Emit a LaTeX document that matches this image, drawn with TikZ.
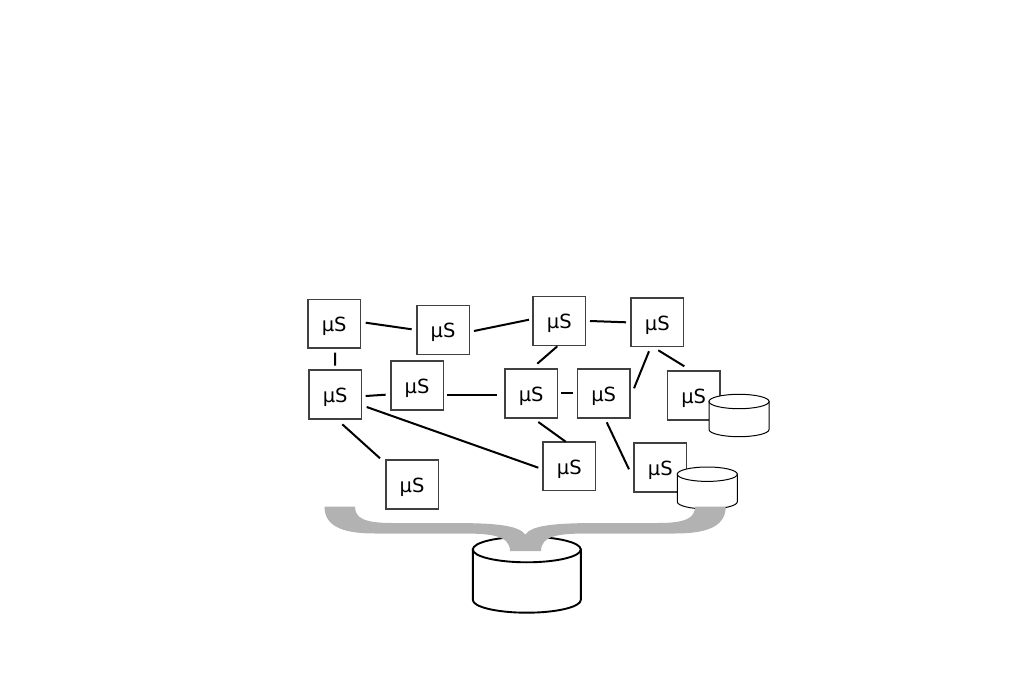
\documentclass[tikz,border=0pt]{standalone}
\usepackage{fontspec}
\setmainfont{DejaVu Sans}
\newcommand{\mus}{\raisebox{-8pt}[0pt][0pt]{µS}}
\tikzset{
  msbox/.style={draw=black!75,line width=1.5pt,fill=white,minimum width=52.5pt,minimum height=48.8pt,inner sep=0pt,outer sep=0pt,font=\fontsize{19.5pt}{21pt}\selectfont,text=black},
  link/.style={line width=2pt,black,line cap=butt},
  cylthin/.style={draw=black,line width=1pt,fill=white},
  cylthick/.style={draw=black,line width=1.9pt,fill=white},
  bracefill/.style={fill=black!30,draw=none}
}
\newcommand{\cylpath}[6]{%
  % style, cx, top centre y, rx, ry, side height
  \path[#1] (#2-#4,#3) -- (#2-#4,#3+#6)
    .. controls (#2-#4,#3+#6+.552*#5) and (#2-.552*#4,#3+#6+#5) .. (#2,#3+#6+#5)
    .. controls (#2+.552*#4,#3+#6+#5) and (#2+#4,#3+#6+.552*#5) .. (#2+#4,#3+#6)
    -- (#2+#4,#3) -- cycle;
  \path[#1] (#2,#3) ellipse[x radius=#4,y radius=#5];
}
\begin{document}
\begin{tikzpicture}[x=1pt,y=-1pt]
\useasboundingbox (0,0) rectangle (1010,676);
\node[msbox] (A) at (334.2,323.8) {\mus};
\node[msbox] (B) at (443,330) {\mus};
\node[msbox] (C) at (559.3,321) {\mus};
\node[msbox] (D) at (657.3,322.2) {\mus};
\node[msbox] (E) at (335.2,394.5) {\mus};
\node[msbox] (F) at (417,385.5) {\mus};
\node[msbox] (G) at (531.2,393.5) {\mus};
\node[msbox] (H) at (603.7,393.5) {\mus};
\node[msbox] (I) at (693.7,395.5) {\mus};
\node[msbox] (J) at (569.3,466.2) {\mus};
\node[msbox] (K) at (660.3,467.5) {\mus};
\node[msbox] (L) at (412,484.5) {\mus};
\draw[link] ([shift={(31.5,-1.1)}]A.center) -- ([shift={(-31.3,-0.7)}]B.center);
\draw[link] ([shift={(31,1)}]B.center) -- ([shift={(-30.3,-1.3)}]C.center);
\draw[link] ([shift={(30.7,0)}]C.center) -- ([shift={(-31.3,0.1)}]D.center);
\draw[link] ([shift={(0.8,28.9)}]A.center) -- ([shift={(0,-28.8)}]E.center);
\draw[link] ([shift={(30.5,1.5)}]E.center) -- ([shift={(-31.3,9.2)}]F.center);
\draw[link] ([shift={(30.3,9.2)}]F.center) -- ([shift={(-34.5,1.2)}]G.center);
\draw[link] ([shift={(30.1,-0.8)}]G.center) -- ([shift={(-30.4,-0.8)}]H.center);
\draw[link] ([shift={(-2,25.3)}]C.center) -- ([shift={(6.1,-29.8)}]G.center);
\draw[link] ([shift={(-8.3,29.1)}]D.center) -- ([shift={(30.3,-5.2)}]H.center);
\draw[link] ([shift={(1,28.1)}]D.center) -- ([shift={(-9.4,-29.2)}]I.center);
\draw[link] ([shift={(31.5,12.5)}]E.center) -- ([shift={(-31,1.5)}]J.center);
\draw[link] ([shift={(7.1,29.8)}]E.center) -- ([shift={(-32,-26.2)}]L.center);
\draw[link] ([shift={(7.1,28.5)}]G.center) -- ([shift={(-3.6,-24.5)}]J.center);
\draw[link] ([shift={(3,28.8)}]H.center) -- ([shift={(-31.3,1.8)}]K.center);
\cylpath{cylthin}{739}{401.5}{30}{7.2}{28}
\cylpath{cylthin}{707.3}{474.2}{30}{7.2}{27.6}
\cylpath{cylthick}{526.8}{549.5}{54}{12.8}{50.4}
\path[bracefill] (324.5,506.5) -- (355,506.5) .. controls (355,518) and (364,523) .. (392,523) -- (450,523)
  .. controls (495,523) and (518,525) .. (525.3,534.5) .. controls (532,525) and (556,523) .. (600,523) -- (658,523)
  .. controls (686,523) and (695,518) .. (695,506.5) -- (725.7,506.5) .. controls (725.7,525) and (710,533.5) .. (675,533.5)
  -- (590,533.5) .. controls (560,533.5) and (541,535) .. (541,551) -- (510,551) .. controls (510,535) and (490,533.5) .. (460,533.5)
  -- (375,533.5) .. controls (340,533.5) and (324.5,525) .. (324.5,506.5) -- cycle;
\end{tikzpicture}
\end{document}
